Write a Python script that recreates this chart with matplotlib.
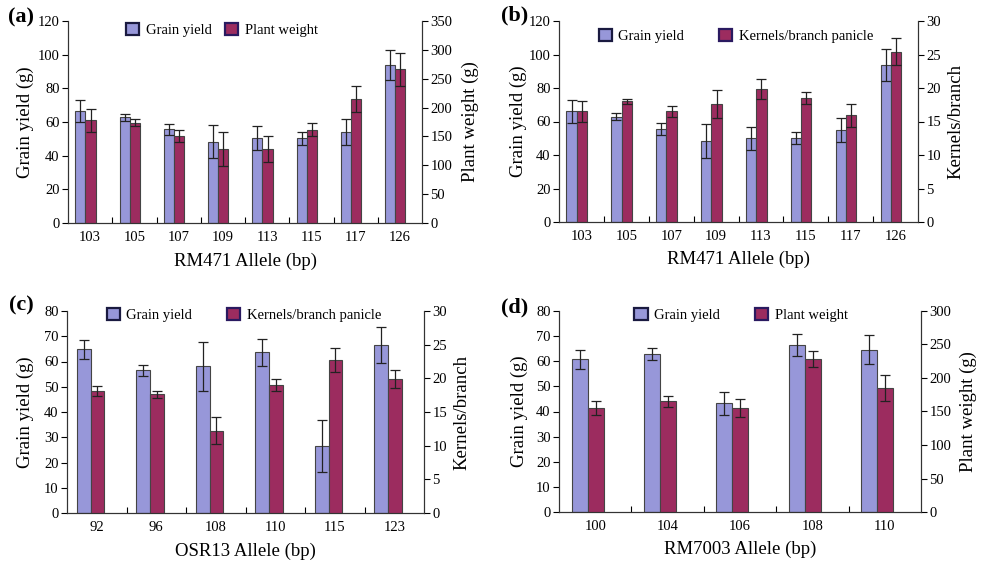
import numpy as np
import matplotlib.pyplot as plt
from matplotlib.patches import Patch

plt.rcParams['font.family'] = ['Liberation Serif', 'DejaVu Serif']

# ---- data ----
# (a) RM471: grain yield vs plant weight
a_alleles = ['103', '105', '107', '109', '113', '115', '117', '126']
a_gy = [66.5, 62.7, 55.6, 48.3, 50.3, 50.3, 54.0, 94.0]
a_gy_err = [6.5, 2.0, 3.4, 9.7, 7.1, 3.7, 7.5, 9.0]
a_pw = [178, 174, 151, 128, 128, 162, 215, 266]
a_pw_err = [20, 6, 11, 29, 22, 12, 22, 28]

# (b) RM471: grain yield vs kernels/branch panicle
b_alleles = ['103', '105', '107', '109', '113', '115', '117', '126']
b_gy = [66.0, 62.9, 55.4, 48.4, 50.0, 50.0, 54.8, 93.5]
b_gy_err = [6.8, 2.0, 3.6, 10.0, 7.0, 3.6, 7.0, 9.5]
b_kb = [16.5, 18.0, 16.5, 17.6, 19.8, 18.5, 15.9, 25.4]
b_kb_err = [1.6, 0.4, 0.8, 2.1, 1.5, 0.85, 1.7, 2.0]

# (c) OSR13: grain yield vs kernels/branch panicle
c_alleles = ['92', '96', '108', '110', '115', '123']
c_gy = [64.9, 56.5, 58.1, 63.6, 26.4, 66.6]
c_gy_err = [3.8, 2.3, 9.7, 5.4, 10.3, 7.2]
c_kb = [18.1, 17.6, 12.2, 19.0, 22.7, 19.9]
c_kb_err = [0.7, 0.5, 2.0, 0.95, 1.8, 1.3]

# (d) RM7003: grain yield vs plant weight
d_alleles = ['100', '104', '106', '108', '110']
d_gy = [60.7, 62.9, 43.3, 66.6, 64.6]
d_gy_err = [3.6, 2.3, 4.6, 4.4, 5.8]
d_pw = [155.5, 165, 155, 228.5, 185.8]
d_pw_err = [10, 8.5, 13, 12.4, 19.4]

GY_COLOR = '#9797d9'
SEC_COLOR = '#9c2c5f'
W, H = 982, 563

fig = plt.figure(figsize=(W / 100, H / 100), dpi=100)


def px_axes(l, t, r, b):
    return [l / W, 1 - b / H, (r - l) / W, (b - t) / H]


def panel(rect, alleles, gy, gy_err, sec, sec_err, sec_name, sec_label,
          gy_max, gy_step, sec_max, sec_step, xlabel, letter, letter_xy,
          leg_xy, leg_gap, ylab_x, w=0.23):
    ax = fig.add_axes(px_axes(*rect))
    ax2 = ax.twinx()
    x = np.arange(len(alleles))
    split = -0.105
    ax.bar(x + split - w / 2, gy, w, color=GY_COLOR, edgecolor='#444444', linewidth=0.8)
    ax.errorbar(x + split - w / 2, gy, yerr=gy_err, fmt='none', ecolor='#222222',
                elinewidth=0.9, capsize=3.5, capthick=0.9)
    ax2.bar(x + split + w / 2, sec, w, color=SEC_COLOR, edgecolor='#444444', linewidth=0.8)
    ax2.errorbar(x + split + w / 2, sec, yerr=sec_err, fmt='none', ecolor='#222222',
                 elinewidth=0.9, capsize=3.5, capthick=0.9)

    ax.set_xlim(-0.5, len(alleles) - 0.5)
    ax.set_ylim(0, gy_max)
    ax.set_yticks(np.arange(0, gy_max + 0.1, gy_step))
    ax2.set_ylim(0, sec_max)
    ax2.set_yticks(np.arange(0, sec_max + 0.1, sec_step))
    ax.set_xticks(x)
    ax.set_xticklabels(alleles)
    ax.set_xticks(np.arange(0.5, len(alleles) - 0.5), minor=True)
    ax.tick_params(axis='x', which='major', length=0, pad=6, labelsize=10.5)
    ax.tick_params(axis='x', which='minor', direction='in', length=4, width=0.8)
    ax.tick_params(axis='y', direction='out', length=4, width=0.8, labelsize=10.5, pad=2)
    ax2.tick_params(axis='y', direction='out', length=4, width=0.8, labelsize=10.5, pad=2)
    for a in (ax, ax2):
        a.spines['top'].set_visible(False)
        for s in ('left', 'right', 'bottom'):
            a.spines[s].set_linewidth(0.8)
            a.spines[s].set_color('#333333')

    ax.set_xlabel(xlabel, fontsize=13.5)
    ax.xaxis.set_label_coords(0.5, -0.145)
    ax.set_ylabel('Grain yield (g)', fontsize=13.5, va='center', ha='center')
    ax.yaxis.set_label_coords(ylab_x[0], 0.5)
    ax2.set_ylabel(sec_label, fontsize=13.5, va='center', ha='center')
    ax2.yaxis.set_label_coords(ylab_x[1], 0.5)

    handles = [Patch(facecolor=GY_COLOR, edgecolor='#1a1a40', linewidth=1.6),
               Patch(facecolor=SEC_COLOR, edgecolor='#2a1a60', linewidth=1.6)]
    ax2.legend(handles, ['Grain yield', sec_name], loc='center', bbox_to_anchor=leg_xy,
               ncol=2, frameon=False, fontsize=10.5, handlelength=0.9, handleheight=0.9,
               handletextpad=0.45, columnspacing=leg_gap, borderpad=0)

    fig.text(letter_xy[0] / W, 1 - letter_xy[1] / H, letter, fontsize=16,
             fontweight='bold', ha='center', va='center')


panel((68, 21, 422, 223), a_alleles, a_gy, a_gy_err, a_pw, a_pw_err,
      'Plant weight', 'Plant weight (g)', 120, 20, 350, 50,
      'RM471 Allele (bp)', '(a)', (21, 17), (0.435, 0.955), 0.9, (-0.121, 1.136))
panel((559, 21, 918, 222), b_alleles, b_gy, b_gy_err, b_kb, b_kb_err,
      'Kernels/branch panicle', 'Kernels/branch', 120, 20, 30, 5,
      'RM471 Allele (bp)', '(b)', (515, 15), (0.493, 0.925), 2.4, (-0.114, 1.106))
panel((67, 311, 424, 513), c_alleles, c_gy, c_gy_err, c_kb, c_kb_err,
      'Kernels/branch panicle', 'Kernels/branch', 80, 10, 30, 5,
      'OSR13 Allele (bp)', '(c)', (21, 305), (0.496, 0.98), 2.4, (-0.118, 1.106))
panel((559, 311, 921, 512), d_alleles, d_gy, d_gy_err, d_pw, d_pw_err,
      'Plant weight', 'Plant weight (g)', 80, 10, 300, 50,
      'RM7003 Allele (bp)', '(d)', (515, 307), (0.503, 0.98), 2.4, (-0.110, 1.130), w=0.22)

fig.savefig('out.png', dpi=100)
